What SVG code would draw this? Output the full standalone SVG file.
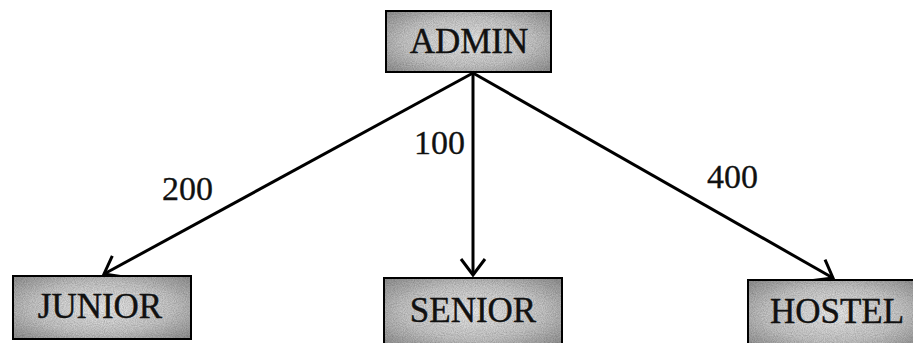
<svg xmlns="http://www.w3.org/2000/svg" width="913" height="343" viewBox="0 0 913 343">
<defs>
<radialGradient id="boxfill" cx="50%" cy="50%" r="65%">
<stop offset="0" stop-color="#f0f0f0"/>
<stop offset="0.6" stop-color="#cbcbcb"/>
<stop offset="1" stop-color="#9a9a9a"/>
</radialGradient>
<filter id="grain" x="0" y="0" width="100%" height="100%">
<feTurbulence type="fractalNoise" baseFrequency="0.9" numOctaves="2" seed="3" result="n"/>
<feColorMatrix in="n" type="matrix" values="0 0 0 0 0  0 0 0 0 0  0 0 0 0 0  0 0 0 0.6 -0.1" result="dots"/>
<feComposite in="dots" in2="SourceGraphic" operator="in" result="d2"/>
<feMerge><feMergeNode in="SourceGraphic"/><feMergeNode in="d2"/></feMerge>
</filter>
<marker id="arr" viewBox="0 0 20 28" markerUnits="userSpaceOnUse" markerWidth="20" markerHeight="28" refX="18" refY="14" orient="auto">
<path d="M2,2 L18,14 L2,26" fill="none" stroke="#000" stroke-width="3" stroke-linejoin="miter"/>
</marker>
<style>
.box{fill:url(#boxfill);stroke:#000;stroke-width:4;filter:url(#grain)}
.lbl{font-family:"Liberation Serif","Times New Roman",serif;font-size:35px;fill:#111;stroke:#111;stroke-width:0.4;text-anchor:middle}
.num{font-family:"Liberation Serif","Times New Roman",serif;font-size:34px;fill:#111;stroke:#111;stroke-width:0.3}
.edge{stroke:#000;stroke-width:3;fill:none;marker-end:url(#arr)}
</style>
</defs>
<rect width="913" height="343" fill="#fff"/>
<g id="connectors">
<line class="edge" x1="473" y1="73" x2="104" y2="274"/>
<line class="edge" x1="473" y1="73" x2="473" y2="275"/>
<line class="edge" x1="473" y1="73" x2="833" y2="278"/>
<text class="num" x="162" y="200">200</text>
<text class="num" x="414" y="154">100</text>
<text class="num" x="707" y="188">400</text>
</g>
<g id="admin">
<rect class="box" x="385" y="10" width="167" height="63"/>
<text class="lbl" x="469" y="53">ADMIN</text>
</g>
<g id="junior">
<rect class="box" x="12" y="275" width="180" height="65"/>
<text class="lbl" x="100" y="318">JUNIOR</text>
</g>
<g id="senior">
<rect class="box" x="383" y="277" width="180" height="70"/>
<text class="lbl" x="473" y="322">SENIOR</text>
</g>
<g id="hostel">
<rect class="box" x="747" y="279" width="175" height="70"/>
<text class="lbl" x="837" y="323">HOSTEL</text>
</g>
</svg>
